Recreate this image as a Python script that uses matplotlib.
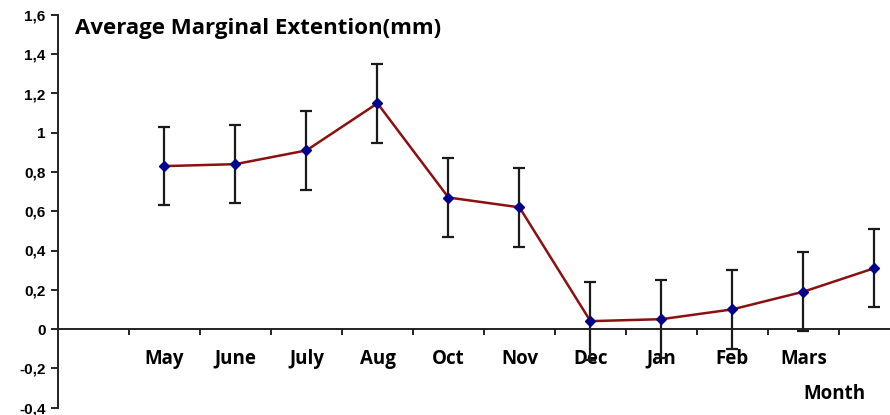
import numpy as np
import matplotlib.pyplot as plt

# monthly means and error of marginal extension (mm)
months = ["May", "June", "July", "Aug", "Oct", "Nov", "Dec", "Jan", "Feb", "Mars", ""]
extension = [0.83, 0.84, 0.91, 1.15, 0.67, 0.62, 0.04, 0.05, 0.10, 0.19, 0.31]
errors = [0.20, 0.20, 0.20, 0.20, 0.20, 0.20, 0.20, 0.20, 0.20, 0.20, 0.20]
y_ticks = [-0.4, -0.2, 0, 0.2, 0.4, 0.6, 0.8, 1, 1.2, 1.4, 1.6]

fig = plt.figure(figsize=(8.9, 4.15), dpi=100)
ax = fig.add_axes([58 / 890, 7.5 / 415, 1 - 58 / 890, 1 - 22.5 / 415])

x = np.arange(1, len(extension) + 1)
ax.errorbar(x, extension, yerr=errors, fmt="none", ecolor="#1a1a1a",
            elinewidth=1.6, capsize=4, capthick=1.6, zorder=2)
ax.plot(x, extension, color="#8b1010", lw=1.8, marker="D", ms=5,
        mfc="#00008b", mec="#00008b", zorder=3)

ax.set_xlim(-0.5, 11.22)
ax.set_ylim(-0.4, 1.6)

# y axis with comma decimals
ax.set_yticks(y_ticks)
ax.set_yticklabels([f"{v:g}".replace(".", ",") for v in y_ticks],
                   fontfamily="Liberation Sans", fontweight="bold", fontsize=11)
ax.tick_params(axis="y", direction="out", length=5, width=1.2, pad=4)

# category axis sits on zero
ax.spines["bottom"].set_position(("data", 0))
ax.spines["top"].set_visible(False)
ax.spines["right"].set_visible(False)
ax.spines["left"].set_linewidth(1.4)
ax.spines["bottom"].set_linewidth(1.4)
ax.spines["left"].set_color("#222222")
ax.spines["bottom"].set_color("#222222")

ax.set_xticks(np.arange(0.5, 11.5, 1), minor=True)
ax.set_xticks(x)
ax.set_xticklabels(months, fontfamily="Open Sans", fontweight="bold", fontsize=13.5)
for lbl in ax.get_xticklabels():
    lbl.set_verticalalignment("baseline")
ax.tick_params(axis="x", which="major", length=0, pad=25)
ax.tick_params(axis="x", which="minor", direction="out", length=4, width=1.2)

ax.text(0.02, 0.965, "Average Marginal Extention(mm)", transform=ax.transAxes,
        fontfamily="Open Sans", fontweight="bold", fontsize=16, va="center", ha="left")
fig.text(834 / 890, 1 - 394 / 415, "Month", fontfamily="Open Sans",
         fontweight="bold", fontsize=13.5, ha="center", va="center")

fig.savefig("out.png", dpi=100)
